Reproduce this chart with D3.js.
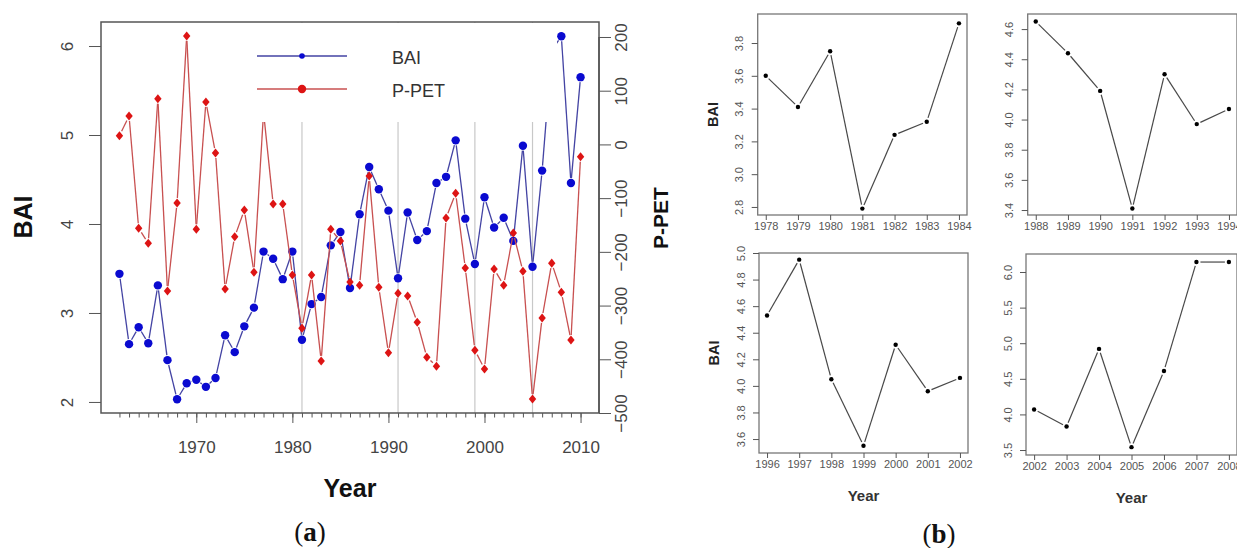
<!DOCTYPE html>
<html>
<head>
<meta charset="utf-8" />
<title>BAI and P-PET</title>
<style>
  body { margin: 0; background: #fff; }
  svg { display: block; font-family: "Liberation Sans", Arial, sans-serif; }
  .ta text { font-size: 17px; fill: #444; }
  .tb text { font-size: 11px; fill: #555; }
  .ta line, .tb line { stroke: #555; }
</style>
</head>
<body>
<div id="chart"></div>
<script src="https://d3js.org/d3.v7.min.js"></script>
<script>
// ---- panel (a) ----
var years = [1962, 1963, 1964, 1965, 1966, 1967, 1968, 1969, 1970, 1971, 1972, 1973, 1974, 1975, 1976, 1977,
  1978, 1979, 1980, 1981, 1982, 1983, 1984, 1985, 1986, 1987, 1988, 1989, 1990, 1991, 1992, 1993, 1994,
  1995, 1996, 1997, 1998, 1999, 2000, 2001, 2002, 2003, 2004, 2005, 2006, 2007, 2008, 2009, 2010];
var bai = [3.44, 2.65, 2.84, 2.66, 3.31, 2.47, 2.03, 2.21, 2.25, 2.17, 2.27, 2.75, 2.56, 2.85, 3.06, 3.69,
  3.61, 3.38, 3.69, 2.70, 3.10, 3.18, 3.76, 3.91, 3.28, 4.11, 4.64, 4.39, 4.15, 3.39, 4.13, 3.82, 3.92,
  4.46, 4.53, 4.94, 4.06, 3.55, 4.30, 3.96, 4.07, 3.81, 4.88, 3.52, 4.60, 5.95, 6.11, 4.46, 5.65];
var ppet = [16, 53, -156, -184, 85, -273, -109, 202, -158, 79, -16, -269, -172, -122, -238, 60,
  -111, -111, -243, -342, -243, -403, -158, -180, -256, -262, -59, -266, -388, -277, -282, -331, -396,
  -413, -137, -91, -230, -383, -418, -232, -262, -165, -236, -474, -323, -221, -275, -364, -23];
var markYears = [1981, 1991, 1999, 2005];
var majorYears = [1970, 1980, 1990, 2000, 2010];
var baiTicks = [2, 3, 4, 5, 6];
var ppetTicks = [-500, -400, -300, -200, -100, 0, 100, 200];

// ---- panel (b) ----
var b1Years = [1978, 1979, 1980, 1981, 1982, 1983, 1984];
var b1 = [3.60, 3.41, 3.75, 2.79, 3.24, 3.32, 3.92];
var b1Ticks = [2.8, 3.0, 3.2, 3.4, 3.6, 3.8];
var b2Years = [1988, 1989, 1990, 1991, 1992, 1993, 1994];
var b2 = [4.65, 4.44, 4.19, 3.41, 4.30, 3.97, 4.07];
var b2Ticks = [3.4, 3.6, 3.8, 4.0, 4.2, 4.4, 4.6];
var b3Years = [1996, 1997, 1998, 1999, 2000, 2001, 2002];
var b3 = [4.53, 4.95, 4.05, 3.55, 4.31, 3.96, 4.06];
var b3Ticks = [3.6, 3.8, 4.0, 4.2, 4.4, 4.6, 4.8, 5.0];
var b4Years = [2002, 2003, 2004, 2005, 2006, 2007, 2008];
var b4 = [4.07, 3.83, 4.92, 3.54, 4.61, 6.14, 6.14];
var b4Ticks = [3.5, 4.0, 4.5, 5.0, 5.5, 6.0];

var W = 1237, H = 548;
var svg = d3.select("#chart").append("svg").attr("width", W).attr("height", H);

// line segments with gaps round the points, like R type="b"
function gapLine(g, pts, gap, color, width) {
  for (var i = 0; i < pts.length - 1; i++) {
    var a = pts[i], b = pts[i + 1];
    var dx = b[0] - a[0], dy = b[1] - a[1], len = Math.hypot(dx, dy);
    if (len <= 2 * gap) continue;
    var ux = dx / len, uy = dy / len;
    g.append("line")
      .attr("x1", a[0] + ux * gap).attr("y1", a[1] + uy * gap)
      .attr("x2", b[0] - ux * gap).attr("y2", b[1] - uy * gap)
      .attr("stroke", color).attr("stroke-width", width);
  }
}

// rotated tick labels (reading bottom to top)
function rotateLabels(ax, off) {
  ax.selectAll("text")
    .attr("transform", "rotate(-90)")
    .attr("x", 0).attr("y", off).attr("dy", 0)
    .style("text-anchor", "middle");
}

// ================= panel (a) =================
var L = 101, R = 599, T = 22, B = 413;
var x = d3.scaleLinear().domain([1960.08, 2011.92]).range([L, R]);
var yL = d3.scaleLinear().domain([1.876, 6.27]).range([B, T]);
var yR = d3.scaleLinear().domain([-500, 227.9]).range([B, T]);

var ga = svg.append("g");

// grey vertical lines
ga.selectAll(".vl").data(markYears).enter().append("line")
  .attr("x1", d => x(d)).attr("x2", d => x(d))
  .attr("y1", T).attr("y2", B)
  .attr("stroke", "#c8c8c8").attr("stroke-width", 1.2);

var bluePts = years.map((d, i) => [x(d), yL(bai[i])]);
var redPts = years.map((d, i) => [x(d), yR(ppet[i])]);

gapLine(ga, bluePts, 5, "#4343a3", 1.3);
ga.selectAll(".bp").data(bluePts).enter().append("circle")
  .attr("cx", d => d[0]).attr("cy", d => d[1]).attr("r", 4.2)
  .attr("fill", "#0a0ad0");

gapLine(ga, redPts, 5, "#c85050", 1.3);
ga.selectAll(".rp").data(redPts).enter().append("path")
  .attr("transform", d => "translate(" + d[0] + "," + d[1] + ") scale(1.35,0.95)")
  .attr("d", d3.symbol().type(d3.symbolDiamond).size(26))
  .attr("fill", "#dd1414");

// legend (white background hides what lies under it)
ga.append("rect").attr("x", 240).attr("y", T + 1).attr("width", 317).attr("height", 99)
  .attr("fill", "#fff");
var leg = ga.append("g");
leg.append("line").attr("x1", 257).attr("x2", 347).attr("y1", 56).attr("y2", 56)
  .attr("stroke", "#4343a3").attr("stroke-width", 1.3);
leg.append("circle").attr("cx", 302).attr("cy", 56).attr("r", 2.8).attr("fill", "#0a0ad0");
leg.append("text").attr("x", 392).attr("y", 64).text("BAI")
  .style("font-size", "18px").style("fill", "#333");
leg.append("line").attr("x1", 257).attr("x2", 347).attr("y1", 89).attr("y2", 89)
  .attr("stroke", "#c85050").attr("stroke-width", 1.3);
leg.append("circle").attr("cx", 302).attr("cy", 89).attr("r", 4.2).attr("fill", "#dd1414");
leg.append("text").attr("x", 392).attr("y", 97).text("P-PET")
  .style("font-size", "18px").style("fill", "#333");

// box
ga.append("rect").attr("x", L).attr("y", T).attr("width", R - L).attr("height", B - T)
  .attr("fill", "none").attr("stroke", "#555").attr("stroke-width", 1.5);

// axes
var axL = ga.append("g").attr("class", "ta").attr("transform", "translate(" + L + ",0)")
  .call(d3.axisLeft(yL).tickValues(baiTicks).tickSize(12).tickFormat(d3.format("d")));
axL.select(".domain").remove();
rotateLabels(axL, -28);

var axR = ga.append("g").attr("class", "ta").attr("transform", "translate(" + R + ",0)")
  .call(d3.axisRight(yR).tickValues(ppetTicks).tickSize(12).tickFormat(d3.format("d")));
axR.select(".domain").attr("stroke", "#555").attr("stroke-width", 1.5).attr("d", "M0," + yR(-500) + "V" + yR(200));
rotateLabels(axR, 28);

var axMin = ga.append("g").attr("class", "ta").attr("transform", "translate(0," + B + ")")
  .call(d3.axisBottom(x).tickValues(years).tickSize(4.5).tickFormat(""));
axMin.select(".domain").remove();
var axB = ga.append("g").attr("class", "ta").attr("transform", "translate(0," + B + ")")
  .call(d3.axisBottom(x).tickValues(majorYears).tickSize(10).tickPadding(18).tickFormat(d3.format("d")));
axB.select(".domain").remove();

// titles
ga.append("text").attr("transform", "translate(32,217) rotate(-90)")
  .style("text-anchor", "middle").style("font-size", "25px").style("font-weight", "bold")
  .style("fill", "#111").text("BAI");
ga.append("text").attr("transform", "translate(668,218) rotate(-90)")
  .style("text-anchor", "middle").style("font-size", "21px").style("font-weight", "bold")
  .style("fill", "#111").text("P-PET");
ga.append("text").attr("x", 350).attr("y", 497)
  .style("text-anchor", "middle").style("font-size", "25px").style("font-weight", "bold")
  .style("fill", "#111").text("Year");
var capA = ga.append("text").attr("x", 310).attr("y", 541)
  .style("text-anchor", "middle").style("font-size", "27px")
  .style("font-family", "'Liberation Serif', 'DejaVu Serif', serif").style("fill", "#111");
capA.append("tspan").text("(");
capA.append("tspan").style("font-weight", "bold").text("a");
capA.append("tspan").text(")");

// ================= panel (b) =================
function smallPlot(o) {
  var g = svg.append("g");
  var sx = d3.scaleLinear().domain([o.yrs[0] - 0.25, o.yrs[o.yrs.length - 1] + 0.25]).range([o.x0, o.x1]);
  var sy = d3.scaleLinear().domain(o.ydom).range([o.y1, o.y0]);
  var pts = o.yrs.map((d, i) => [sx(d), sy(o.vals[i])]);
  gapLine(g, pts, 4, "#484848", 1.2);
  g.selectAll("circle").data(pts).enter().append("circle")
    .attr("cx", d => d[0]).attr("cy", d => d[1]).attr("r", 2.2).attr("fill", "#000");
  g.append("rect").attr("x", o.x0).attr("y", o.y0).attr("width", o.x1 - o.x0).attr("height", o.y1 - o.y0)
    .attr("fill", "none").attr("stroke", "#777").attr("stroke-width", 1.3);
  var ay = g.append("g").attr("class", "tb").attr("transform", "translate(" + o.x0 + ",0)")
    .call(d3.axisLeft(sy).tickValues(o.ticks).tickSize(6).tickFormat(d3.format(".1f")));
  ay.select(".domain").remove();
  rotateLabels(ay, -14.5);
  var ax = g.append("g").attr("class", "tb").attr("transform", "translate(0," + o.y1 + ")")
    .call(d3.axisBottom(sx).tickValues(o.yrs).tickSize(5).tickPadding(2).tickFormat(d3.format("d")));
  ax.select(".domain").remove();
  if (o.ylab) {
    g.append("text").attr("transform", "translate(" + (o.x0 - 40) + "," + ((o.y0 + o.y1) / 2) + ") rotate(-90)")
      .style("text-anchor", "middle").style("font-size", "14.5px").style("font-weight", "bold")
      .style("fill", "#222").text("BAI");
  }
  if (o.xlab) {
    g.append("text").attr("x", (o.x0 + o.x1) / 2).attr("y", o.y1 + 48)
      .style("text-anchor", "middle").style("font-size", "15px").style("font-weight", "bold")
      .style("fill", "#333").text("Year");
  }
}

smallPlot({ yrs: b1Years, vals: b1, ticks: b1Ticks, ydom: [2.751, 3.977], x0: 757.7, x1: 967, y0: 14, y1: 215, ylab: true });
smallPlot({ yrs: b2Years, vals: b2, ticks: b2Ticks, ydom: [3.367, 4.70], x0: 1027.7, x1: 1237, y0: 14, y1: 215 });
smallPlot({ yrs: b3Years, vals: b3, ticks: b3Ticks, ydom: [3.495, 5.0], x0: 759, x1: 968, y0: 253, y1: 453, ylab: true, xlab: true });
smallPlot({ yrs: b4Years, vals: b4, ticks: b4Ticks, ydom: [3.43, 6.253], x0: 1026, x1: 1237, y0: 254, y1: 455, xlab: true });

var capB = svg.append("text").attr("x", 939).attr("y", 543)
  .style("text-anchor", "middle").style("font-size", "27px")
  .style("font-family", "'Liberation Serif', 'DejaVu Serif', serif").style("fill", "#111");
capB.append("tspan").text("(");
capB.append("tspan").style("font-weight", "bold").text("b");
capB.append("tspan").text(")");
</script>
</body>
</html>
